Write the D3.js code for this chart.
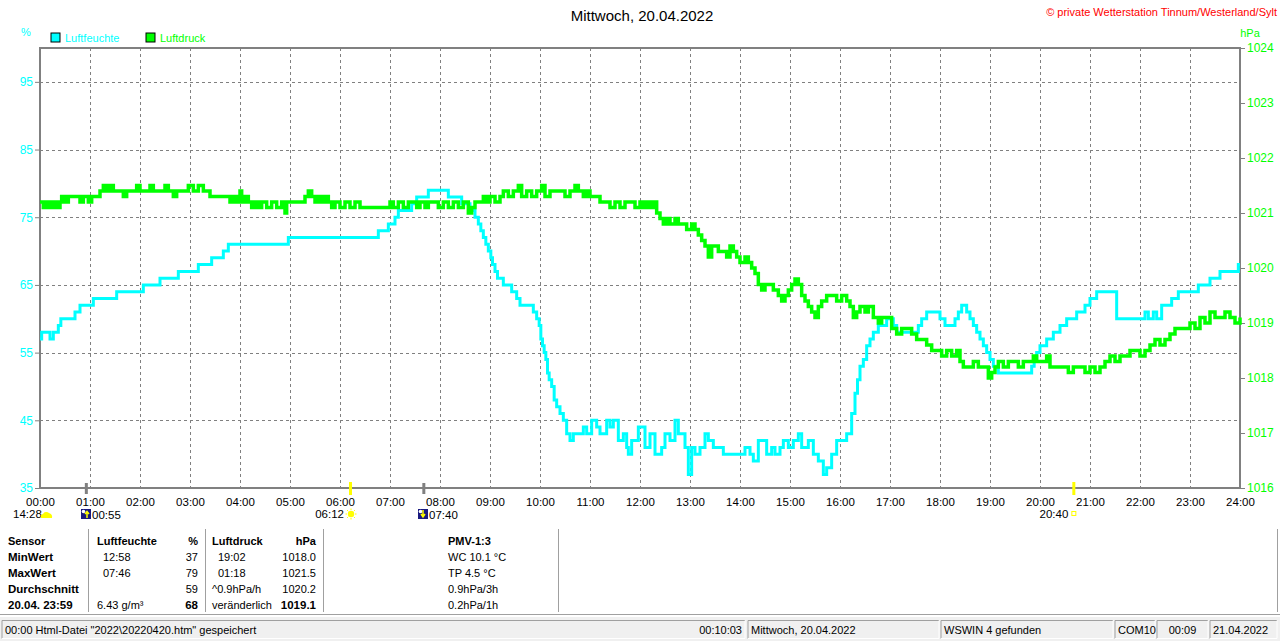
<!DOCTYPE html>
<html>
<head>
<meta charset="utf-8">
<script src="https://cdn.jsdelivr.net/npm/d3@7"></script>
<style>
  body { margin: 0; background: #fff; overflow: hidden; }
  svg { display: block; font-family: 'Liberation Sans', Arial, sans-serif; }
</style>
</head>
<body>
<svg id="chart" width="1280" height="641"></svg>
<script>
'use strict'

// Luftfeuchte (%), minutes since midnight -> value (step line)
const humTimes = [0, 2, 12, 16, 22, 25, 42, 48, 64, 92, 124, 144, 166, 190, 206, 220, 226, 298, 406, 418,
  426, 430, 446, 452, 466, 490, 506, 516, 522, 526, 529, 532, 535, 538, 541, 543, 546, 549, 556, 566,
  572, 576, 592, 596, 599, 601, 603, 605, 607, 609, 611, 614, 617, 620, 624, 628, 632, 636, 640, 652,
  656, 662, 668, 672, 680, 684, 688, 694, 700, 704, 706, 710, 718, 726, 732, 738, 746, 750, 756, 762,
  766, 774, 778, 782, 786, 792, 798, 802, 808, 820, 846, 852, 856, 862, 872, 878, 882, 888, 892, 898,
  904, 910, 914, 922, 928, 934, 940, 944, 950, 956, 968, 974, 978, 981, 984, 988, 992, 996, 1000, 1006,
  1016, 1024, 1028, 1054, 1058, 1064, 1080, 1086, 1098, 1102, 1106, 1112, 1116, 1120, 1124, 1128, 1132, 1136, 1140, 1144,
  1150, 1190, 1193, 1196, 1200, 1208, 1216, 1224, 1232, 1244, 1254, 1260, 1268, 1292, 1326, 1330, 1336, 1340, 1346, 1358,
  1366, 1390, 1404, 1416, 1438, 1440]
const humValues = [57, 58, 57, 58, 59, 60, 61, 62, 63, 64, 65, 66, 67, 68, 69, 70, 71, 72, 73, 74,
  75, 76, 77, 78, 79, 78, 77, 76, 75, 74, 73, 72, 71, 70, 69, 68, 67, 66, 65, 64,
  63, 62, 61, 60, 59, 57, 56, 55, 54, 52, 51, 50, 48, 47, 46, 45, 43, 42, 43, 44,
  43, 45, 44, 43, 45, 44, 45, 42, 43, 41, 40, 42, 44, 41, 43, 40, 41, 43, 42, 45,
  43, 41, 37, 41, 40, 41, 43, 42, 41, 40, 41, 40, 39, 42, 40, 41, 40, 41, 42, 41,
  42, 43, 41, 42, 40, 39, 37, 38, 40, 42, 43, 46, 49, 51, 53, 54, 56, 57, 58, 59,
  60, 59, 58, 59, 60, 61, 60, 59, 60, 61, 62, 61, 60, 59, 58, 57, 56, 55, 54, 53,
  52, 53, 54, 55, 56, 57, 58, 59, 60, 61, 62, 63, 64, 60, 61, 60, 61, 60, 62, 63,
  64, 65, 66, 67, 68, 68]

// Luftdruck (hPa)
const pressTimes = [0, 4, 8, 12, 16, 20, 24, 26, 30, 34, 48, 52, 58, 62, 72, 76, 80, 84, 88, 100,
  104, 116, 120, 132, 136, 150, 154, 160, 164, 178, 184, 190, 196, 204, 228, 232, 236, 240, 242, 246,
  250, 254, 258, 262, 266, 272, 278, 284, 290, 294, 296, 318, 322, 326, 330, 334, 338, 342, 346, 350,
  354, 360, 366, 372, 378, 384, 420, 424, 430, 436, 442, 452, 456, 462, 466, 478, 484, 490, 496, 502,
  508, 514, 518, 522, 532, 536, 540, 546, 552, 556, 562, 568, 574, 578, 584, 590, 596, 602, 606, 612,
  630, 636, 642, 646, 652, 656, 660, 672, 684, 690, 696, 702, 714, 720, 724, 728, 732, 736, 740, 744,
  748, 752, 756, 762, 766, 776, 782, 786, 790, 794, 798, 802, 806, 814, 824, 828, 832, 836, 840, 846,
  850, 854, 858, 862, 866, 870, 880, 886, 890, 894, 898, 902, 906, 910, 914, 918, 922, 926, 930, 934,
  938, 944, 956, 962, 968, 972, 976, 980, 984, 990, 994, 1000, 1006, 1010, 1022, 1028, 1034, 1046, 1052, 1064,
  1070, 1082, 1088, 1094, 1100, 1104, 1108, 1120, 1126, 1138, 1142, 1146, 1150, 1156, 1162, 1174, 1180, 1192, 1196, 1208,
  1212, 1234, 1240, 1254, 1260, 1266, 1272, 1278, 1284, 1290, 1296, 1308, 1320, 1326, 1332, 1338, 1344, 1350, 1356, 1362,
  1380, 1386, 1392, 1398, 1404, 1410, 1422, 1428, 1434, 1440]
const pressValues = [1021.2, 1021.1, 1021.2, 1021.1, 1021.2, 1021.1, 1021.2, 1021.3, 1021.2, 1021.3, 1021.2, 1021.3, 1021.2, 1021.3, 1021.4, 1021.5, 1021.4, 1021.5, 1021.4, 1021.3,
  1021.4, 1021.5, 1021.4, 1021.5, 1021.4, 1021.5, 1021.4, 1021.3, 1021.4, 1021.5, 1021.4, 1021.5, 1021.4, 1021.3, 1021.2, 1021.3, 1021.2, 1021.4, 1021.2, 1021.3,
  1021.2, 1021.1, 1021.2, 1021.1, 1021.2, 1021.1, 1021.2, 1021.1, 1021.2, 1021.0, 1021.2, 1021.3, 1021.4, 1021.3, 1021.2, 1021.3, 1021.2, 1021.3, 1021.2, 1021.1,
  1021.2, 1021.1, 1021.2, 1021.1, 1021.2, 1021.1, 1021.2, 1021.1, 1021.2, 1021.1, 1021.2, 1021.1, 1021.2, 1021.1, 1021.2, 1021.1, 1021.2, 1021.1, 1021.2, 1021.1,
  1021.2, 1021.0, 1021.1, 1021.2, 1021.3, 1021.2, 1021.3, 1021.2, 1021.3, 1021.4, 1021.3, 1021.4, 1021.5, 1021.3, 1021.4, 1021.3, 1021.4, 1021.5, 1021.3, 1021.4,
  1021.3, 1021.4, 1021.5, 1021.4, 1021.3, 1021.4, 1021.3, 1021.2, 1021.1, 1021.2, 1021.1, 1021.2, 1021.1, 1021.2, 1021.1, 1021.2, 1021.1, 1021.2, 1021.0, 1020.9,
  1020.8, 1020.9, 1020.8, 1020.9, 1020.8, 1020.7, 1020.8, 1020.7, 1020.6, 1020.5, 1020.4, 1020.2, 1020.4, 1020.3, 1020.2, 1020.4, 1020.3, 1020.2, 1020.1, 1020.2,
  1020.1, 1020.0, 1019.9, 1019.7, 1019.6, 1019.7, 1019.6, 1019.5, 1019.4, 1019.5, 1019.6, 1019.7, 1019.8, 1019.7, 1019.5, 1019.4, 1019.3, 1019.2, 1019.1, 1019.3,
  1019.4, 1019.5, 1019.4, 1019.5, 1019.4, 1019.3, 1019.1, 1019.2, 1019.3, 1019.2, 1019.3, 1019.1, 1019.0, 1019.1, 1018.9, 1018.8, 1018.9, 1018.8, 1018.7, 1018.6,
  1018.5, 1018.4, 1018.5, 1018.4, 1018.5, 1018.3, 1018.2, 1018.3, 1018.2, 1018.0, 1018.1, 1018.2, 1018.3, 1018.2, 1018.3, 1018.2, 1018.3, 1018.4, 1018.3, 1018.4,
  1018.2, 1018.1, 1018.2, 1018.1, 1018.2, 1018.1, 1018.2, 1018.3, 1018.4, 1018.3, 1018.4, 1018.5, 1018.4, 1018.5, 1018.6, 1018.7, 1018.6, 1018.7, 1018.8, 1018.9,
  1019.0, 1018.9, 1019.1, 1019.0, 1019.2, 1019.1, 1019.2, 1019.1, 1019.0, 1019.1]

const hourTicks = d3.range(0, 25)
const humTicks = [35, 45, 55, 65, 75, 85, 95]
const pressTicks = [1016, 1017, 1018, 1019, 1020, 1021, 1022, 1023, 1024]

// sun / moon events below the time axis
const moonEvents = ['00:55', '07:40']
const sunEvents = ['06:12', '20:40']

const tableHeader = ['Sensor', 'Luftfeuchte', '%', 'Luftdruck', 'hPa', 'PMV-1:3']
const tableRows = [
  ['MinWert', '12:58', '37', '19:02', '1018.0', 'WC 10.1 °C'],
  ['MaxWert', '07:46', '79', '01:18', '1021.5', 'TP 4.5 °C'],
  ['Durchschnitt', '', '59', '^0.9hPa/h', '1020.2', '0.9hPa/3h'],
  ['20.04. 23:59', '6.43 g/m³', '68', 'veränderlich', '1019.1', '0.2hPa/1h'],
]
const statusPanels = [
  {x0: 2, x1: 745, text: '00:00  Html-Datei  "2022\\20220420.htm"  gespeichert', right: '00:10:03'},
  {x0: 748, x1: 939, text: 'Mittwoch, 20.04.2022'},
  {x0: 941, x1: 1113, text: 'WSWIN 4 gefunden'},
  {x0: 1115, x1: 1155, text: 'COM10'},
  {x0: 1157, x1: 1208, text: '00:09', center: true},
  {x0: 1210, x1: 1277, text: '21.04.2022'},
]

const CYAN = '#00ffff'
const GREEN = '#00ff00'
const GRID = '#808080'

const toMin = (s) => { const p = s.split(':'); return +p[0] * 60 + +p[1] }

const svg = d3.select('#chart')
const pL = 40, pR = 1240, pT = 48, pB = 488

const x = d3.scaleLinear().domain([0, 1440]).range([pL, pR])
const yHum = d3.scaleLinear().domain([35, 100]).range([pB, pT])
const yPress = d3.scaleLinear().domain([1016, 1024]).range([pB, pT])

// title + header texts
svg.append('text').attr('x', 642).attr('y', 21).attr('text-anchor', 'middle')
  .style('font-size', '15px').text('Mittwoch, 20.04.2022')
svg.append('text').attr('x', 1277).attr('y', 16).attr('text-anchor', 'end')
  .style('font-size', '11px').style('fill', '#ff0000')
  .text('© private Wetterstation Tinnum/Westerland/Sylt')
svg.append('text').attr('x', 26).attr('y', 36).attr('text-anchor', 'middle')
  .style('font-size', '11px').style('fill', CYAN).text('%')
svg.append('text').attr('x', 1250).attr('y', 37).attr('text-anchor', 'middle')
  .style('font-size', '11px').style('fill', GREEN).text('hPa')

// legend
const legend = [{name: 'Luftfeuchte', color: CYAN, x: 51}, {name: 'Luftdruck', color: GREEN, x: 146}]
const lg = svg.selectAll('.legend').data(legend).enter().append('g')
  .attr('transform', (d) => 'translate(' + d.x + ',33)')
lg.append('rect').attr('width', 9).attr('height', 9)
  .style('fill', (d) => d.color).style('stroke', '#000').style('stroke-width', 1)
lg.append('text').attr('x', 14).attr('y', 9).style('font-size', '11px')
  .style('fill', (d) => d.color).text((d) => d.name)

// grid
const grid = svg.append('g').style('stroke', GRID).style('stroke-width', 1).style('stroke-dasharray', '3,3')
grid.selectAll('.vg').data(hourTicks.slice(1, -1)).enter().append('line')
  .attr('x1', (d) => x(d * 60) + 0.5).attr('x2', (d) => x(d * 60) + 0.5)
  .attr('y1', pT).attr('y2', pB)
grid.selectAll('.hg').data(humTicks.slice(1)).enter().append('line')
  .attr('x1', pL).attr('x2', pR)
  .attr('y1', (d) => Math.round(yHum(d)) + 0.5).attr('y2', (d) => Math.round(yHum(d)) + 0.5)

// axes
const axL = svg.append('g').attr('transform', 'translate(' + pL + ',0)')
  .call(d3.axisLeft(yHum).tickValues(humTicks).tickSize(5).tickPadding(2))
axL.selectAll('text').style('fill', CYAN).style('font-size', '12px').style('font-family', 'inherit')
axL.selectAll('line').style('stroke', GRID)
axL.select('.domain').remove()

const axR = svg.append('g').attr('transform', 'translate(' + pR + ',0)')
  .call(d3.axisRight(yPress).tickValues(pressTicks).tickSize(5).tickPadding(2).tickFormat(d3.format('d')))
axR.selectAll('text').style('fill', GREEN).style('font-size', '12px').style('font-family', 'inherit')
axR.selectAll('line').style('stroke', GRID)
axR.select('.domain').remove()

const axB = svg.append('g').attr('transform', 'translate(0,' + pB + ')')
  .call(d3.axisBottom(x).tickValues(hourTicks.map((h) => h * 60)).tickSize(0).tickPadding(10)
    .tickFormat((d) => d3.format('02d')(d / 60) + ':00'))
axB.selectAll('text').style('fill', '#000').style('font-size', '11.5px').style('font-family', 'inherit')
axB.select('.domain').remove()

// frame
svg.append('rect').attr('x', pL).attr('y', pT).attr('width', pR - pL).attr('height', pB - pT)
  .style('fill', 'none').style('stroke', GRID).style('stroke-width', 2)

// series
const humData = humTimes.map((t, i) => ({t: t, v: humValues[i]}))
const pressData = pressTimes.map((t, i) => ({t: t, v: pressValues[i]}))

svg.append('path').datum(humData)
  .attr('d', d3.line().x((d) => x(d.t)).y((d) => yHum(d.v)).curve(d3.curveStepAfter))
  .style('fill', 'none').style('stroke', CYAN).style('stroke-width', 3)
svg.append('path').datum(pressData)
  .attr('d', d3.line().x((d) => x(d.t)).y((d) => yPress(d.v)).curve(d3.curveStepAfter))
  .style('fill', 'none').style('stroke', GREEN).style('stroke-width', 3.5)

// moon / sun markers on the axis
svg.selectAll('.moonTick').data(moonEvents).enter().append('rect')
  .attr('x', (d) => x(toMin(d)) - 1).attr('y', pB - 5).attr('width', 3).attr('height', 11)
  .style('fill', GRID)
svg.selectAll('.sunTick').data(sunEvents).enter().append('rect')
  .attr('x', (d) => x(toMin(d)) - 1).attr('y', pB - 6).attr('width', 3).attr('height', 13)
  .style('fill', '#ffff00')

const evFont = '11.5px'
// day length with cloud icon
svg.append('text').attr('x', 13).attr('y', 518).style('font-size', evFont).text('14:28')
svg.append('path').attr('d', 'M41,518 h11 a4,4 0 0 0 -3,-5 a4,4 0 0 0 -6,1 a3,3 0 0 0 -2,4 z')
  .style('fill', '#ffff00')

// moonrise / moonset
const moonG = svg.selectAll('.moon').data(moonEvents).enter().append('g')
  .attr('transform', (d) => 'translate(' + Math.round(x(toMin(d)) - 5) + ',509)')
moonG.append('rect').attr('width', 10).attr('height', 10).style('fill', '#1a1a80')
moonG.append('circle').attr('cx', 2.5).attr('cy', 2.5).attr('r', 1.8).style('fill', '#fff')
moonG.append('path').attr('d', (d, i) => i === 0 ? 'M6,9 V3 M4,5 L6,2.5 L8,5' : 'M5,1 V7 M3,5 L5,8 L7,5')
  .style('stroke', '#ffff00').style('stroke-width', 1.5).style('fill', 'none')
moonG.append('text').attr('x', 11).attr('y', 9.5).style('font-size', evFont).text((d) => d)

// sunrise
svg.append('text').attr('x', x(toMin(sunEvents[0])) - 6).attr('y', 518).attr('text-anchor', 'end')
  .style('font-size', evFont).text(sunEvents[0])
const sunG = svg.append('g').attr('transform', 'translate(' + (x(toMin(sunEvents[0])) + 1) + ',514)')
sunG.append('circle').attr('r', 3.2).style('fill', '#ffff00')
sunG.selectAll('line').data(d3.range(8)).enter().append('line')
  .attr('x1', (d) => 4 * Math.cos(d * Math.PI / 4)).attr('y1', (d) => 4 * Math.sin(d * Math.PI / 4))
  .attr('x2', (d) => 5.5 * Math.cos(d * Math.PI / 4)).attr('y2', (d) => 5.5 * Math.sin(d * Math.PI / 4))
  .style('stroke', '#ffff00').style('stroke-width', 1)

// sunset
svg.append('text').attr('x', x(toMin(sunEvents[1])) - 5).attr('y', 518).attr('text-anchor', 'end')
  .style('font-size', evFont).text(sunEvents[1])
svg.append('rect').attr('x', x(toMin(sunEvents[1])) - 1.5).attr('y', 511.5).attr('width', 4).attr('height', 4)
  .style('fill', '#fff').style('stroke', '#ffff00').style('stroke-width', 1)

// table
const colX = [8, 97, 198, 212, 316, 448]
const colAnchor = ['start', 'start', 'end', 'start', 'end', 'start']
const isTime = (s) => /^\d\d:\d\d$/.test(s)
const table = svg.append('g').style('font-size', '11px')
table.selectAll('.sep').data([88, 205, 323, 558, 1277]).enter().append('line')
  .attr('x1', (d) => d + 0.5).attr('x2', (d) => d + 0.5).attr('y1', 529).attr('y2', 612)
  .style('stroke', '#a0a0a0')
table.selectAll('.hd').data(tableHeader).enter().append('text')
  .attr('x', (d, i) => colX[i]).attr('y', 545).attr('text-anchor', (d, i) => colAnchor[i])
  .style('font-weight', 'bold').text((d) => d)
tableRows.forEach((row, r) => {
  table.selectAll('.r' + r).data(row).enter().append('text')
    .attr('x', (d, i) => colX[i] + ((i === 1 || i === 3) && isTime(d) ? 6 : 0))
    .attr('y', 561 + r * 16)
    .attr('text-anchor', (d, i) => colAnchor[i])
    .style('font-weight', (d, i) => i === 0 || (r === 3 && (i === 2 || i === 4)) ? 'bold' : 'normal')
    .style('font-size', (d, i) => i === 0 || (r === 3 && (i === 2 || i === 4)) ? '11.5px' : '11px')
    .text((d) => d)
})
svg.append('line').attr('x1', 0).attr('x2', 1280).attr('y1', 614.5).attr('y2', 614.5).style('stroke', '#a0a0a0')

// status bar
svg.append('rect').attr('x', 0).attr('y', 617).attr('width', 1280).attr('height', 24).style('fill', '#f0f0f0')
const sp = svg.selectAll('.panel').data(statusPanels).enter().append('g')
sp.append('path').attr('d', (d) => 'M' + d.x0 + ',638.5 V620.5 H' + d.x1)
  .style('fill', 'none').style('stroke', '#a0a0a0')
sp.append('path').attr('d', (d) => 'M' + d.x1 + ',620.5 V638.5 H' + d.x0)
  .style('fill', 'none').style('stroke', '#fff')
sp.append('text').attr('x', (d) => d.center ? (d.x0 + d.x1) / 2 : d.x0 + 3).attr('y', 634)
  .attr('text-anchor', (d) => d.center ? 'middle' : 'start')
  .style('font-size', '11px').text((d) => d.text)
sp.filter((d) => d.right).append('text').attr('x', (d) => d.x1 - 3).attr('y', 634)
  .attr('text-anchor', 'end').style('font-size', '11px').text((d) => d.right)
</script>
</body>
</html>
